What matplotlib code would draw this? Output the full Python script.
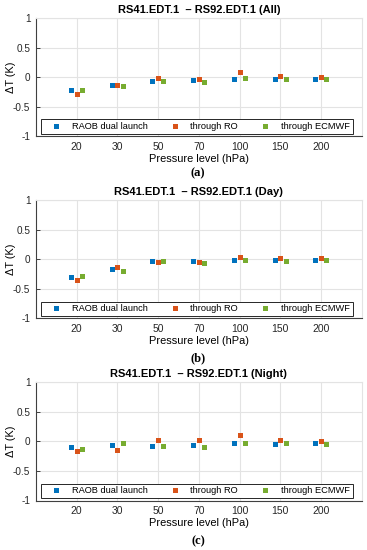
import matplotlib
matplotlib.use('Agg')
import matplotlib.pyplot as plt
import numpy as np

plt.rcParams['font.family'] = ['Liberation Sans', 'DejaVu Sans']

# data
levels = ['20', '30', '50', '70', '100', '150', '200']
series_names = ['RAOB dual launch', 'through RO', 'through ECMWF']
colors = ['#0072BD', '#D95319', '#77AC30']

all_raob = [-0.22, -0.13, -0.06, -0.05, -0.025, -0.025, -0.03]
all_ro = [-0.28, -0.13, -0.02, -0.035, 0.09, 0.03, 0.01]
all_ecmwf = [-0.22, -0.145, -0.06, -0.075, -0.02, -0.03, -0.035]

day_raob = [-0.30, -0.165, -0.025, -0.035, -0.005, -0.015, -0.015]
day_ro = [-0.355, -0.13, -0.05, -0.05, 0.045, 0.02, 0.03]
day_ecmwf = [-0.285, -0.195, -0.025, -0.06, -0.005, -0.02, -0.015]

night_raob = [-0.10, -0.06, -0.07, -0.06, -0.02, -0.04, -0.035]
night_ro = [-0.17, -0.14, 0.02, 0.02, 0.105, 0.015, 0.0]
night_ecmwf = [-0.13, -0.035, -0.07, -0.09, -0.03, -0.03, -0.04]

panels = [
    ('RS41.EDT.1  \u2013 RS92.EDT.1 (All)', 'a', [all_raob, all_ro, all_ecmwf]),
    ('RS41.EDT.1  \u2013 RS92.EDT.1 (Day)', 'b', [day_raob, day_ro, day_ecmwf]),
    ('RS41.EDT.1  \u2013 RS92.EDT.1 (Night)', 'c', [night_raob, night_ro, night_ecmwf]),
]
bottoms = [0.752, 0.421, 0.090]
tag_y = [0.6855, 0.349, 0.015]
offsets = [-0.14, 0.0, 0.13]

fig = plt.figure(figsize=(3.67, 5.5), dpi=100)
x = np.arange(1, len(levels) + 1)

for (title, tag, vals), bot, ty in zip(panels, bottoms, tag_y):
    ax = fig.add_axes([0.098, bot, 0.888, 0.215])
    for v, c, name, off in zip(vals, colors, series_names, offsets):
        ax.plot(x + off, v, 's', color=c, markersize=3.6, markeredgewidth=0, label=name)
    ax.set_xlim(0, 8)
    ax.set_ylim(-1, 1)
    ax.set_xticks(x)
    ax.set_xticklabels(levels)
    ax.set_yticks([-1, -0.5, 0, 0.5, 1])
    ax.set_yticklabels(['-1', '-0.5', '0', '0.5', '1'])
    ax.grid(True, color='#e3e3e3', linewidth=0.8)
    ax.set_axisbelow(True)
    for s in ['top', 'right']:
        ax.spines[s].set_color('#e3e3e3')
    ax.spines['left'].set_color('#404040')
    ax.spines['bottom'].set_color('#404040')
    ax.spines['left'].set_linewidth(0.8)
    ax.spines['bottom'].set_linewidth(0.8)
    ax.tick_params(axis='y', direction='in', length=3, width=0.6, pad=4,
                   labelsize=7.2, colors='#262626')
    ax.tick_params(axis='x', length=0, pad=4.2, labelsize=7.5, colors='#262626')
    ax.set_title(title, fontsize=8, fontweight='bold', pad=4)
    ax.set_ylabel('\u0394T (K)', fontsize=7.8, va='center')
    ax.yaxis.set_label_coords(-0.078, 0.5)
    ax.set_xlabel('Pressure level (hPa)', fontsize=7.9, labelpad=1.2)
    leg = ax.legend(loc='lower left', bbox_to_anchor=(0.015, 0.02, 0.957, 0.11),
                    mode='expand', ncol=3, fontsize=6.7, frameon=True,
                    fancybox=False, edgecolor='#262626', framealpha=1,
                    handlelength=2.6, handletextpad=0.4, borderpad=0.3,
                    borderaxespad=0.0)
    leg.get_frame().set_linewidth(0.7)
    # sub-figure letter below the x label
    fig.text(0.54, ty, '(' + tag + ')', ha='center', va='center',
             fontsize=9, family='Liberation Serif', fontweight='bold')

fig.savefig('out.png', dpi=100)
